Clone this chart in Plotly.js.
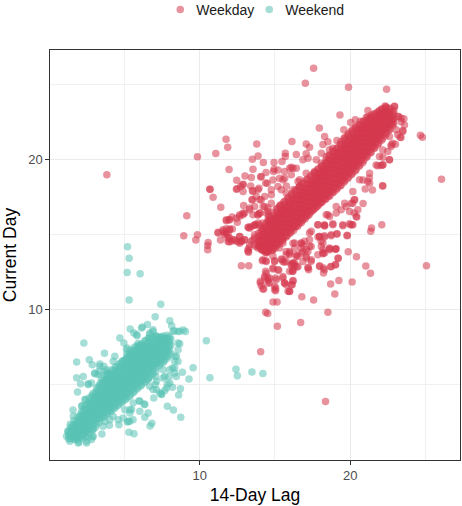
<!DOCTYPE html>
<html><head><meta charset="utf-8">
<script src="https://cdn.plot.ly/plotly-3.0.1.min.js"></script>
<style>html,body{margin:0;padding:0;background:#fff}#c{width:462px;height:506px}</style>
</head><body><div id="c"></div>
<script>
var weekdayScatter=[[3.83,19.0],[9.14,16.27],[8.94,14.93],[18.36,3.87],[14.05,7.2],
[17.57,26.11],[17.02,25.11],[19.89,24.84],[22.42,24.71],[19.32,23.0],[21.18,23.29],[22.95,23.57],[22.35,23.55],[21.95,23.29],[23.23,22.89],[23.57,22.75],[23.39,22.55],[23.5,21.95],[23.06,22.0],[23.32,21.51],[24.67,21.64],[24.8,21.51],[26.07,18.71],[17.95,22.13],[18.3,21.55],[18.52,21.2],[18.19,21.02],[19.12,21.29],[19.58,22.0],[20.03,22.49],[20.34,22.67],[20.69,22.57],[16.13,21.22],[17.08,21.06],[17.3,20.84],[15.69,20.44],[16.42,20.35],[17.08,20.4],[17.2,20.11],[13.79,21.06],[11.75,21.37],[11.86,20.84],[11.07,20.42],[9.85,20.2],[13.88,20.26],[13.5,20.04],[14.23,19.82],[11.95,19.35],[13.54,19.37],[14.94,19.82],[15.47,19.89],[14.94,19.37],[15.2,19.33],[14.41,19.15],[14.05,18.86],[13.01,18.93],[13.43,18.82],[12.46,18.64],[14.87,18.66],[14.49,18.44],[12.88,18.37],[12.72,18.22],[10.67,18.04],[12.44,18.04],[13.39,18.26],[13.94,18.11],[15.31,18.77],[15.65,18.77],[15.98,19.44],[16.09,19.51],[16.2,19.44],[15.76,18.26],[16.53,18.55],[22.17,18.26],[21.29,18.44],[20.84,18.66],[22.17,19.66],[22.61,20.0],[22.06,19.62],[22.73,21.0],[23.01,21.04],[22.5,20.55],[21.95,20.22],
[21.29,22.77],[21.95,23.0],[22.84,22.55],[22.61,21.55],[22.17,20.66],[21.73,19.66],[21.29,19.11],[18.41,20.22],[18.85,20.77],[17.75,20.0],[18.08,20.44],
[10.69,18.03],[10.89,17.51],[11.4,16.83],[9.85,15.0],[9.74,14.65],[10.56,14.49],[10.53,14.29],[10.53,14.0],[11.22,15.16],[11.38,14.65],[11.55,15.23],[11.77,15.11],[11.99,15.34],[12.17,15.38],[11.66,15.0],[11.88,14.78],[12.1,14.56],[11.95,14.51],[12.33,14.67],[12.66,14.89],[12.77,14.56],[12.99,14.67],[12.61,14.51],[11.77,15.94],[11.95,16.0],[12.15,16.18],[12.5,15.83],[12.66,16.23],[12.88,16.34],[12.99,16.45],[13.32,16.78],[12.92,16.96],[13.48,17.34],[13.87,16.34],[13.99,16.45],[14.21,16.89],[14.54,16.78],[14.76,17.11],[13.87,18.0],[13.54,17.89],[12.88,17.89],[12.88,18.34],[12.48,18.07],[13.99,17.34],[14.38,18.45],[14.76,17.67],[13.43,15.56],[13.21,15.51],[13.7,15.67],[13.94,15.67],[14.58,15.96],[13.21,13.89],[13.28,14.11],[12.77,12.94],[13.26,12.94],[14.16,13.27],[14.38,13.27],[14.98,13.27],[14.47,13.83],[15.64,13.16],[15.42,13.38],[15.75,13.89],[14.87,12.71],[15.25,12.63],[14.38,12.56],[14.32,12.23],[14.54,12.12],[14.03,11.89],[14.1,11.6],[14.25,11.38],[14.65,11.78],[14.54,11.96],[15.05,12.12],[15.53,12.12],[15.05,11.45],[15.05,11.27],[15.75,11.67],[15.87,11.23],[15.98,11.23],[16.2,11.94],[16.15,11.67],[15.64,11.78],[14.87,10.52],[15.14,10.52],[14.38,9.83],[14.52,9.74],[15.16,8.89],[16.71,9.14],[18.52,9.83],[16.79,10.87],[17.57,10.65],[18.98,11.05],[18.7,11.72],[19.25,11.94],[20.13,11.85],[21.35,12.43],[21.04,12.91],[20.42,13.54],[19.87,13.87],[19.2,13.43],[19.03,13.0],[18.7,12.87],[18.23,12.45],[18.23,12.78],[17.97,12.94],[17.24,12.67],[17.21,12.83],[16.46,12.85],[16.31,12.94],[16.09,13.0],[16.15,12.56],[16.2,13.11],[17.41,13.23],[17.08,13.45],[16.42,13.56],[16.86,13.89],[17.3,14.23],[16.75,14.45],[16.97,14.56],[16.31,14.45],[15.98,13.89],[18.19,14.0],[18.19,13.74],[18.63,14.07],[19.03,14.05],[18.19,14.45],[17.86,14.85],[18.3,14.85],[18.74,14.94],[19.12,15.05],[19.8,14.94],[17.41,15.23],[18.85,15.74],[18.3,15.6],[17.86,15.67],[19.52,15.6],[20.02,15.67],[20.18,15.67],[21.42,15.45],[21.37,15.23],[22.1,15.67],[20.86,17.09],[20.29,16.45],[20.44,16.18],[20.18,17.11],[20.29,17.34],[19.63,17.11],[19.07,16.45],[18.52,16.34],[20.18,17.89],[21.0,18.05],[21.48,17.98],[22.15,18.27],[25.07,12.94],
[14.21,14.0],[14.54,13.89],[14.87,14.0],[15.31,14.11],[15.53,14.45],[13.87,14.11],[13.65,14.34],[13.43,14.56],[13.65,14.78],
[15.69,20.22],[16.86,20.0],[16.42,19.44],[15.64,19.22],[14.91,19.22],[14.09,18.89],[15.53,18.67],[16.09,19.0],[16.64,18.67],[17.08,19.11],[17.63,19.22],[18.08,19.78],[18.63,20.67],[18.96,20.22],[16.64,18.22],[16.2,18.0],[15.75,17.78],[15.42,18.0],[15.2,18.22],[14.76,18.0],[13.5,17.96],[13.76,17.56],[14.32,17.56],[14.09,17.33],[13.5,17.33],[13.65,16.89],[14.32,16.89],[14.54,16.56],[15.31,16.89],[13.98,16.44],[13.54,16.33],[14.54,16.0],[14.2,15.78],[13.65,15.67],[13.32,15.44],
[21.17,18.56],[20.62,18.67],[21.28,18.78],[21.84,19.6],[22.17,19.67],[22.61,20.0],[22.17,20.18],[22.83,21.11],[22.72,20.89],[23.16,21.67],[23.38,21.49],[23.61,22.33],[23.38,22.78],[23.16,22.89],[23.5,21.89],[22.94,23.56],[19.07,14.07],[18.63,14.11],[18.3,13.78],[18.08,14.22],[17.97,14.89],[18.3,15.6],[18.85,15.67],[19.51,15.67],[20.13,15.67],[20.4,16.22],[19.96,16.56],[19.73,16.89],[19.4,16.67],[19.07,16.89],[18.63,16.22],[18.41,16.33],[17.85,15.67],[17.3,15.11],[17.3,14.67],[16.75,14.44],[17.08,14.0],[16.2,14.44],[15.75,13.67],[16.53,13.56],[17.08,13.56],[17.85,13.67],[15.97,13.78],[20.51,16.67],[20.07,17.11],[20.29,17.33],
[11.22,15.11],[11.55,15.33],[11.77,15.4],[11.99,15.38],[11.66,15.11],[11.88,15.04],[11.99,14.78],[11.88,14.56],[12.21,14.67],[12.44,14.56],[12.66,14.89],[12.77,14.56],[12.66,14.44],[12.99,14.67],[13.32,14.33],[13.54,14.67],[13.65,15.0],[13.92,14.56],[13.98,14.22],[13.76,14.22],[14.09,14.0],[14.43,13.78],[13.21,14.0],[13.25,13.84],[11.77,16.0],[11.99,16.0],[12.44,16.11],[12.66,16.33],[12.88,16.44],[13.32,16.67],[13.87,16.33],[14.43,16.44],[14.76,16.0],[13.87,15.78],[13.65,15.62],[13.25,15.51],[14.2,15.44],
[14.2,13.33],[14.43,13.22],[14.98,13.22],[14.87,13.56],[14.87,12.78],[15.2,12.67],[14.43,12.44],[14.32,12.11],[14.65,12.11],[14.03,11.78],[14.2,11.38],[14.54,11.78],[15.09,12.0],[14.98,11.56],[15.53,12.22],[15.64,11.78],[16.2,11.89],[16.09,11.67],[15.97,11.22],[14.98,11.33],[16.09,13.0],[16.31,13.11],[16.2,12.56],[16.75,13.78],[15.47,13.33],[15.75,13.22],[15.97,13.67],[16.42,13.67],[16.31,14.11],[16.75,14.11],
[15.53,13.22],[16.2,13.11],[16.53,12.89],[15.97,12.56],[16.2,12.67],[16.86,13.22],[17.19,13.89],[17.41,13.33],[17.19,12.78],[16.86,14.33],[17.41,14.22],[18.07,14.56],[18.19,13.78],[18.29,12.67],[17.97,12.89],[18.74,12.89],[19.02,13.0],[19.2,13.44],[18.63,14.0],[19.02,14.04],[17.97,14.89],[18.29,14.93],[18.74,15.0],[19.12,15.07],[19.8,14.96],[18.29,15.67],[19.95,15.73]];

var weekdayCoreLag=[14.0,14.25,14.5,14.75,15.0,15.25,15.5,15.75,16.0,16.25,16.5,16.75,17.0,17.25,17.5,17.75,18.0,18.25,18.5,18.75,19.0,19.25,19.5,19.75,20.0,20.25,20.5,20.75,21.0,21.25,21.5,21.75,22.0,22.25,22.5,22.75];
var weekdayCoreCurrent=[[14.2,14.45,14.7],[14.0,14.25,14.5,14.8,15.05],[13.9,14.2,14.5,14.8,15.1,15.4],[14.0,14.3,14.6,14.9,15.2,15.5,15.8],[14.1,14.4,14.7,15.0,15.3,15.6,15.9,16.2],[14.35,14.65,14.95,15.25,15.55,15.85,16.15,16.4],[14.6,14.9,15.2,15.5,15.8,16.1,16.4,16.6],[14.85,15.15,15.45,15.75,16.05,16.35,16.65,16.9],[15.1,15.4,15.7,16.0,16.3,16.6,16.9,17.15],[15.3,15.6,15.9,16.2,16.5,16.8,17.1,17.4],[15.55,15.85,16.15,16.45,16.75,17.05,17.35,17.6],[15.8,16.1,16.4,16.7,17.0,17.3,17.6,17.85],[16.05,16.35,16.65,16.95,17.25,17.55,17.85,18.1],[16.3,16.6,16.9,17.2,17.5,17.8,18.1,18.35],[16.6,16.9,17.2,17.5,17.8,18.1,18.4,18.6],[16.85,17.15,17.45,17.75,18.05,18.35,18.65,18.85],[17.1,17.4,17.7,18.0,18.3,18.6,18.9,19.15],[17.4,17.7,18.0,18.3,18.6,18.9,19.2,19.4],[17.65,17.95,18.25,18.55,18.85,19.15,19.45,19.7],[17.9,18.2,18.5,18.8,19.1,19.4,19.7,19.95],[18.15,18.45,18.75,19.05,19.35,19.65,19.95,20.2],[18.4,18.7,19.0,19.3,19.6,19.9,20.2,20.5],[18.65,18.95,19.25,19.55,19.85,20.15,20.45,20.75],[18.95,19.25,19.55,19.85,20.15,20.45,20.75,21.0],[19.2,19.5,19.8,20.1,20.4,20.7,21.0,21.3],[19.5,19.8,20.1,20.4,20.7,21.0,21.3,21.55],[19.75,20.05,20.35,20.65,20.95,21.25,21.55,21.8],[20.0,20.3,20.6,20.9,21.2,21.5,21.8,22.05],[20.3,20.6,20.9,21.2,21.5,21.8,22.1,22.3],[20.6,20.9,21.2,21.5,21.8,22.1,22.35],[20.9,21.2,21.5,21.8,22.1,22.4,22.6],[21.2,21.5,21.8,22.1,22.4,22.7],[21.5,21.8,22.1,22.4,22.7,22.95],[21.8,22.1,22.4,22.7,23.0],[22.1,22.4,22.7,23.0,23.2],[22.4,22.65,22.9]];

var weekdayInnerLag=[13.9,14.15,14.4,14.65,14.9,15.15,15.4,15.65,15.9,16.15,16.4,16.65,16.9,17.15,17.4,17.65,17.9,18.15,18.4,18.65,18.9,19.15,19.4,19.65,19.9,20.15,20.4,20.65,20.9,21.15,21.4,21.65,21.9,22.15,22.4,22.65,22.9];
var weekdayInnerCurrent=[[14.3,14.6,14.9,15.1],[14.0,14.3,14.6,14.9,15.2,15.45],[13.95,14.25,14.55,14.85,15.15,15.45,15.75],[14.1,14.4,14.7,15.0,15.3,15.6,15.9,16.15],[14.2,14.5,14.8,15.1,15.4,15.7,16.0,16.3],[14.4,14.7,15.0,15.3,15.6,15.9,16.2,16.5,16.75],[14.65,14.95,15.25,15.55,15.85,16.15,16.45,16.75,17.0],[14.9,15.2,15.5,15.8,16.1,16.4,16.7,17.0,17.25],[15.15,15.45,15.75,16.05,16.35,16.65,16.95,17.25,17.5],[15.4,15.7,16.0,16.3,16.6,16.9,17.2,17.5,17.75],[15.6,15.9,16.2,16.5,16.8,17.1,17.4,17.7,18.0],[15.85,16.15,16.45,16.75,17.05,17.35,17.65,17.95,18.25],[16.1,16.4,16.7,17.0,17.3,17.6,17.9,18.2,18.5],[16.3,16.6,16.9,17.2,17.5,17.8,18.1,18.4,18.7],[16.55,16.85,17.15,17.45,17.75,18.05,18.35,18.65,18.95],[16.75,17.05,17.35,17.65,17.95,18.25,18.55,18.85,19.15],[17.0,17.3,17.6,17.9,18.2,18.5,18.8,19.1,19.4],[17.2,17.5,17.8,18.1,18.4,18.7,19.0,19.3,19.6],[17.4,17.7,18.0,18.3,18.6,18.9,19.2,19.5,19.8,20.0],[17.6,17.9,18.2,18.5,18.8,19.1,19.4,19.7,20.0,20.3],[17.85,18.15,18.45,18.75,19.05,19.35,19.65,19.95,20.25,20.55],[18.1,18.4,18.7,19.0,19.3,19.6,19.9,20.2,20.5,20.8],[18.3,18.6,18.9,19.2,19.5,19.8,20.1,20.4,20.7,21.0,21.2],[18.6,18.9,19.2,19.5,19.8,20.1,20.4,20.7,21.0,21.3,21.5],[18.85,19.15,19.45,19.75,20.05,20.35,20.65,20.95,21.25,21.55,21.75],[19.1,19.4,19.7,20.0,20.3,20.6,20.9,21.2,21.5,21.8,22.0],[19.35,19.65,19.95,20.25,20.55,20.85,21.15,21.45,21.75,22.05,22.2],[19.65,19.95,20.25,20.55,20.85,21.15,21.45,21.75,22.05,22.35],[19.95,20.25,20.55,20.85,21.15,21.45,21.75,22.05,22.35,22.6],[20.25,20.55,20.85,21.15,21.45,21.75,22.05,22.35,22.65,22.85],[20.5,20.8,21.1,21.4,21.7,22.0,22.3,22.6,22.9,23.0],[20.8,21.1,21.4,21.7,22.0,22.3,22.6,22.9,23.1],[21.1,21.4,21.7,22.0,22.3,22.6,22.9,23.2],[21.4,21.7,22.0,22.3,22.6,22.9,23.2,23.4],[21.75,22.05,22.35,22.65,22.95,23.25,23.5],[22.05,22.35,22.65,22.95,23.2,23.45],[22.45,22.75,23.05,23.3]];

var weekdayFillLag=[14.07,14.32,14.58,14.83,15.08,15.33,15.57,15.83,16.08,16.33,16.58,16.83,17.08,17.33,17.58,17.83,18.08,18.33,18.58,18.83,19.08,19.33,19.58,19.83,20.08,20.33,20.58,20.83,21.08,21.33,21.58,21.83,22.08,22.33,22.58,22.83];
var weekdayFillCurrent=[[14.15,14.55,15.0,15.3],[13.85,14.4,14.95,15.6],[14.05,14.62,15.25,15.85,16.3],[13.95,14.55,15.12,15.7,16.45],[14.25,14.85,15.42,16.08,16.7],[14.5,15.1,15.72,16.32,16.95],[14.75,15.35,15.95,16.55,17.15],[14.95,15.6,16.2,16.8,17.4],[15.2,15.85,16.45,17.05,17.65],[15.5,16.1,16.7,17.3,17.9],[15.7,16.3,16.9,17.55,18.15],[15.95,16.55,17.2,17.75,18.4],[16.2,16.8,17.4,18.0,18.65],[16.45,17.05,17.65,18.25,18.85],[16.7,17.3,17.9,18.5,19.1],[16.9,17.5,18.1,18.75,19.35],[17.15,17.75,18.35,18.95,19.55],[17.35,17.95,18.55,19.15,19.75],[17.55,18.15,18.75,19.35,19.95,20.3],[17.8,18.4,19.0,19.6,20.2,20.55],[18.0,18.6,19.2,19.8,20.4,20.75],[18.25,18.85,19.45,20.05,20.65,21.05],[18.5,19.1,19.7,20.3,20.9,21.4],[18.75,19.35,19.95,20.55,21.15,21.65],[19.0,19.6,20.2,20.8,21.4,21.9],[19.25,19.85,20.45,21.05,21.65,22.15],[19.55,20.15,20.75,21.35,21.95,22.35],[19.8,20.4,21.0,21.6,22.2,22.55],[20.15,20.75,21.35,21.95,22.5,22.85],[20.45,21.05,21.65,22.25,22.8],[20.75,21.35,21.95,22.5,23.05],[21.0,21.6,22.2,22.75,23.2],[21.3,21.9,22.45,23.05,23.4],[21.6,22.2,22.75,23.35,23.6],[21.95,22.5,23.1,23.4],[22.3,22.75,23.2]];

var weekendScatter=[[5.2,14.2],[5.31,13.44],[5.18,12.49],[6.04,12.4],[5.31,10.64],[7.41,10.37],[7.04,9.53],[8.01,9.26],[8.14,8.93],[8.32,8.6],[8.9,8.64],[9.05,8.55],[8.56,8.55],[6.53,9.02],[6.2,8.84],[5.38,8.71],[5.62,8.44],[5.84,8.26],[4.69,8.11],[4.96,7.77],[5.18,7.44],[2.3,7.77],[3.67,7.09],[2.66,6.66],[1.82,6.51],[2.86,6.33],[3.36,6.37],[3.63,6.22],[1.82,5.46],[2.26,5.55],[2.08,5.06],[1.88,4.51],[2.59,5.06],[3.03,5.73],[3.32,5.89],[3.47,5.44],[10.44,7.93],[9.56,6.13],[8.85,5.82],[9.29,5.37],[10.68,5.46],[12.41,6.02],[12.5,5.6],[13.47,5.84],[14.2,5.75],[8.72,4.73],[8.6,4.31],[8.19,4.82],[7.85,5.04],[7.68,4.6],[7.46,4.37],[7.13,4.66],[6.95,4.11],[6.31,3.71],[5.97,3.93],[7.85,3.55],[8.25,3.31],[8.74,2.82],[6.02,3.22],[6.57,3.11],[6.35,2.82],[6.82,2.42],[6.7,2.24],[5.57,2.66],[5.35,2.55],[5.2,2.51],[5.29,1.82],[5.63,1.73],[4.63,2.33],[4.0,2.29],[3.5,1.71],[2.87,1.51],[2.49,1.22],[1.97,1.17],[1.29,1.37],[1.24,1.89],[1.58,3.31],[2.19,3.6],[2.42,4.0],
[8.67,7.73],[8.56,7.33],[8.45,6.89],[8.56,6.55],[8.34,6.11],[8.45,5.55],[7.97,5.55],[7.68,5.55],[8.19,6.11],[7.57,6.0],[7.08,5.55],[7.04,5.0],[6.68,4.89],[6.68,8.44],[6.9,8.55],[7.13,8.22],[5.58,3.77],[5.36,3.33],[4.25,2.89],[4.58,2.66],[3.58,2.22],[2.92,2.0],[2.48,1.55],[4.03,2.66],[3.7,2.55],[5.02,3.33],
[7.35,4.45],[6.9,4.67],[6.57,5.34],[7.13,5.23],[7.57,5.45],[8.01,5.11],[7.79,4.78],[7.46,4.34],[8.34,5.78],[8.01,6.0],[8.34,6.56],[8.34,6.89],[8.56,7.78],[8.67,8.56],[8.23,8.56],[6.68,8.34],[6.9,8.67],[6.13,8.78],[5.8,8.34],[5.13,7.34],[4.36,6.89],[4.25,6.56],[3.81,6.0],[3.36,6.23],[3.7,5.89],[3.25,5.67],[3.03,5.78],[2.81,5.11],[2.59,5.0],[2.37,4.0],[2.15,3.56],[1.6,2.89],[2.92,1.56],[4.91,2.78],[5.24,2.56],[5.47,3.34],[6.02,3.89],[6.35,3.67],[5.36,3.11],[1.37,1.22],[1.93,1.11],[2.48,1.11],[1.15,1.56],[1.26,1.89],[1.71,1.34],[2.81,1.34]];

var weekendCoreLag=[1.3,1.5,1.75,2.0,2.25,2.5,2.75,3.0,3.25,3.5,3.75,4.0,4.25,4.5,4.75,5.0,5.25,5.5,5.75,6.0,6.25,6.5,6.75,7.0,7.25,7.5,7.75,8.0];
var weekendCoreCurrent=[[1.6,1.75],[1.55,1.8,2.0],[1.55,1.8,2.05,2.3],[1.6,1.9,2.2,2.5,2.75],[1.65,1.95,2.25,2.55,2.85,3.1],[1.9,2.2,2.5,2.8,3.1,3.4],[2.2,2.5,2.8,3.1,3.4,3.7],[2.4,2.7,3.0,3.3,3.6,3.9,4.2],[2.7,3.0,3.3,3.6,3.9,4.2,4.5,4.8],[2.95,3.25,3.55,3.85,4.15,4.45,4.75,5.05],[3.15,3.45,3.75,4.05,4.35,4.65,4.95,5.25],[3.35,3.65,3.95,4.25,4.55,4.85,5.15,5.45,5.7],[3.55,3.85,4.15,4.45,4.75,5.05,5.35,5.65,5.95],[3.8,4.1,4.4,4.7,5.0,5.3,5.6,5.9,6.2],[4.0,4.3,4.6,4.9,5.2,5.5,5.8,6.1,6.4],[4.2,4.5,4.8,5.1,5.4,5.7,6.0,6.3,6.6],[4.5,4.8,5.1,5.4,5.7,6.0,6.3,6.6,6.9],[4.7,5.0,5.3,5.6,5.9,6.2,6.5,6.8,7.1],[4.95,5.25,5.55,5.85,6.15,6.45,6.75,7.05,7.35],[5.2,5.5,5.8,6.1,6.4,6.7,7.0,7.3,7.55],[5.45,5.75,6.05,6.35,6.65,6.95,7.25,7.55],[5.75,6.05,6.35,6.65,6.95,7.25,7.55],[6.0,6.3,6.6,6.9,7.2,7.5,7.75],[6.35,6.65,6.95,7.25,7.55,7.85],[6.5,6.8,7.1,7.4,7.7,8.0],[6.7,7.0,7.3,7.6,7.9,8.15],[6.9,7.2,7.5,7.8,8.1],[7.3,7.6,7.9,8.2]];

var weekendInnerLag=[1.4,1.65,1.9,2.15,2.4,2.65,2.9,3.15,3.4,3.65,3.9,4.15,4.4,4.65,4.9,5.15,5.4,5.65,5.9,6.15,6.4,6.65,6.9,7.15,7.4,7.65,7.9];
var weekendInnerCurrent=[[1.4,1.65,1.9,2.15,2.35],[1.35,1.6,1.85,2.1,2.35,2.6],[1.35,1.65,1.95,2.25,2.55,2.85],[1.4,1.7,2.0,2.3,2.6,2.9,3.2],[1.5,1.8,2.1,2.4,2.7,3.0,3.3,3.6],[1.75,2.05,2.35,2.65,2.95,3.25,3.55,3.85,4.1],[2.05,2.35,2.65,2.95,3.25,3.55,3.85,4.15,4.4],[2.35,2.65,2.95,3.25,3.55,3.85,4.15,4.45,4.75],[2.75,3.05,3.35,3.65,3.95,4.25,4.55,4.85,5.1],[2.9,3.2,3.5,3.8,4.1,4.4,4.7,5.0,5.3,5.6],[3.1,3.4,3.7,4.0,4.3,4.6,4.9,5.2,5.5,5.8],[3.3,3.6,3.9,4.2,4.5,4.8,5.1,5.4,5.7,6.0],[3.5,3.8,4.1,4.4,4.7,5.0,5.3,5.6,5.9,6.2],[3.7,4.0,4.3,4.6,4.9,5.2,5.5,5.8,6.1,6.4],[3.9,4.2,4.5,4.8,5.1,5.4,5.7,6.0,6.3,6.6],[4.1,4.4,4.7,5.0,5.3,5.6,5.9,6.2,6.5,6.8,7.05],[4.3,4.6,4.9,5.2,5.5,5.8,6.1,6.4,6.7,7.0,7.3],[4.55,4.85,5.15,5.45,5.75,6.05,6.35,6.65,6.95,7.25,7.5],[4.8,5.1,5.4,5.7,6.0,6.3,6.6,6.9,7.2,7.5,7.75],[5.0,5.3,5.6,5.9,6.2,6.5,6.8,7.1,7.4,7.7],[5.25,5.55,5.85,6.15,6.45,6.75,7.05,7.35,7.65,7.95],[5.5,5.8,6.1,6.4,6.7,7.0,7.3,7.6,7.9,8.1],[5.75,6.05,6.35,6.65,6.95,7.25,7.55,7.85,8.15],[6.15,6.45,6.75,7.05,7.35,7.65,7.95,8.2],[6.4,6.7,7.0,7.3,7.6,7.9,8.2],[6.6,6.9,7.2,7.5,7.8,8.1],[6.9,7.2,7.5,7.8,8.1]];

var weekendFillLag=[1.55,1.83,2.08,2.33,2.58,2.83,3.08,3.33,3.58,3.83,4.08,4.33,4.58,4.83,5.08,5.33,5.58,5.83,6.08,6.33,6.58,6.83,7.08,7.33,7.58,7.83,8.08];
var weekendFillCurrent=[[1.5,1.95,2.25],[1.45,1.95,2.45],[1.5,2.05,2.65,3.0],[1.75,2.35,2.85,3.35],[2.0,2.6,3.15,3.7],[1.95,2.55,3.15,3.75,4.25],[2.15,2.75,3.35,3.95,4.5],[2.5,3.1,3.7,4.3,4.95],[2.8,3.4,4.0,4.6,5.2],[3.0,3.6,4.2,4.8,5.4,5.7],[3.2,3.8,4.4,5.0,5.6],[3.4,4.0,4.6,5.2,5.8],[3.6,4.2,4.8,5.4,6.0],[3.8,4.4,5.0,5.6,6.2,6.55],[4.0,4.6,5.2,5.8,6.4,6.7],[4.2,4.8,5.4,6.0,6.6,7.1],[4.45,5.05,5.65,6.25,6.85,7.3],[4.7,5.3,5.9,6.5,7.1,7.6],[4.9,5.5,6.1,6.7,7.3,7.7],[5.15,5.75,6.35,6.95,7.55,7.9],[5.4,6.0,6.6,7.2,7.8,8.1],[5.65,6.25,6.85,7.45,8.05],[5.9,6.5,7.1,7.7,8.25],[6.3,6.9,7.5,8.1],[6.5,7.1,7.7,8.25],[6.75,7.35,7.95,8.3],[7.05,7.65,8.05]];

var seriesNames=["Weekday","Weekend"];
var tickValues=[10,20];

function collect(scatter,groups){
  var xs=[],ys=[];
  groups.forEach(function(g){
    g[0].forEach(function(l,i){g[1][i].forEach(function(c){xs.push(l);ys.push(c);});});
  });
  scatter.forEach(function(p){xs.push(p[0]);ys.push(p[1]);});
  return {x:xs,y:ys};
}
var wd=collect(weekdayScatter,[[weekdayCoreLag,weekdayCoreCurrent],[weekdayInnerLag,weekdayInnerCurrent],[weekdayFillLag,weekdayFillCurrent]]);
var we=collect(weekendScatter,[[weekendCoreLag,weekendCoreCurrent],[weekendInnerLag,weekendInnerCurrent],[weekendFillLag,weekendFillCurrent]]);
function trace(d,name,col){
  return {type:"scatter",mode:"markers",x:d.x,y:d.y,name:name,
    marker:{color:col,size:7.5,opacity:0.55,line:{width:0}}};
}
var axisBase={showgrid:true,gridcolor:"#ebebeb",gridwidth:1.4,zeroline:false,
  showline:true,mirror:true,linecolor:"#333333",linewidth:1.2,
  ticks:"outside",ticklen:3.5,tickwidth:1.1,tickcolor:"#333333",
  tickmode:"array",tickvals:tickValues,
  tickfont:{family:"Liberation Sans",size:13,color:"#4d4d4d"},
  minor:{tickmode:"array",tickvals:[5,15,25],showgrid:true,gridcolor:"#f0f0f0",gridwidth:0.8,ticks:""}};
var layout={width:462,height:506,paper_bgcolor:"#fff",plot_bgcolor:"#fff",
  margin:{l:50,r:1.5,t:50,b:45.5,autoexpand:false},
  font:{family:"Liberation Sans",color:"#000"},
  showlegend:true,
  legend:{orientation:"h",x:0.486,xanchor:"center",xref:"paper",y:1.098,yanchor:"middle",
    font:{family:"Liberation Sans",size:14,color:"#1a1a1a"},itemwidth:30,entrywidth:44,entrywidthmode:"pixels",bgcolor:"rgba(0,0,0,0)"},
  xaxis:Object.assign({},axisBase,{range:[0.05,27.3],
    title:{text:"14-Day Lag",font:{family:"Liberation Sans",size:17.5,color:"#000"},standoff:6}}),
  yaxis:Object.assign({},axisBase,{range:[-0.03,27.33],
    title:{text:"Current Day",font:{family:"Liberation Sans",size:17.5,color:"#000"},standoff:8}})
};
Plotly.newPlot("c",[trace(wd,seriesNames[0],"#D5394F"),trace(we,seriesNames[1],"#59C3B5")],layout,{displayModeBar:false,responsive:false}).then(function(){
  document.querySelectorAll(".legend .scrollbox").forEach(function(n){n.removeAttribute("clip-path");});
  document.querySelectorAll(".legend .legendtext").forEach(function(n){
    n.setAttribute("x",parseFloat(n.getAttribute("x"))-4);
  });
  document.querySelectorAll(".legend").forEach(function(n){n.style.overflow="visible";});
});
</script></body></html>
